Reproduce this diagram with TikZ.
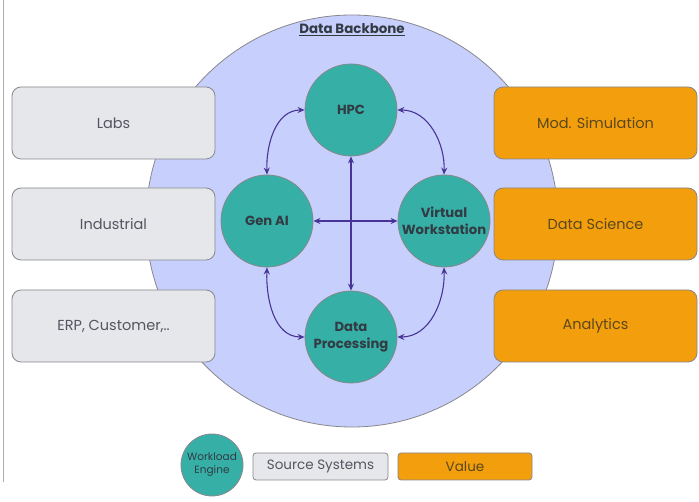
\documentclass[tikz,border=0pt]{standalone}
\usepackage{fontspec}
\setmainfont{Poppins}
\usetikzlibrary{arrows.meta}
\definecolor{backfill}{RGB}{199,208,252}
\definecolor{teal}{RGB}{54,176,166}
\definecolor{arrowc}{RGB}{72,52,150}
\definecolor{srcfill}{RGB}{229,231,235}
\definecolor{valfill}{RGB}{243,158,12}
\definecolor{edgegray}{RGB}{135,135,140}
\definecolor{txtdark}{RGB}{50,58,68}
\definecolor{txtgray}{RGB}{85,85,95}
\definecolor{txtval}{RGB}{90,72,30}
\tikzset{
  engine/.style={circle, draw=edgegray, line width=0.8pt, fill=teal, minimum size=92pt, inner sep=0pt,
    align=center, text=txtdark, font=\bfseries\fontsize{13.2}{16.5}\selectfont},
  srcbox/.style={rectangle, rounded corners=9pt, draw=edgegray, line width=0.8pt, fill=srcfill,
    minimum width=203pt, minimum height=72pt, text=txtgray, font=\fontsize{14.5}{16}\selectfont},
  valbox/.style={rectangle, rounded corners=9pt, draw=edgegray, line width=0.8pt, fill=valfill,
    minimum width=203pt, minimum height=72pt, text=txtval, font=\fontsize{14.5}{16}\selectfont},
  link/.style={draw=arrowc, line width=1.1pt, {Stealth[length=7pt,width=6pt]}-{Stealth[length=7pt,width=6pt]}}
}
\begin{document}
\begin{tikzpicture}[x=1pt,y=1pt]
\useasboundingbox (0,0) rectangle (699,502);
\fill[white] (0,0) rectangle (699,502);
\draw[edgegray!70, line width=0.8pt] (3,502) -- (3,20);
% backbone
\node[circle, draw=edgegray, line width=0.8pt, fill=backfill, minimum size=412pt, inner sep=0pt] (backbone) at (352,281) {};
\node[text=txtdark, font=\bfseries\fontsize{13.4}{15}\selectfont, inner sep=1pt] (bbtitle) at (352,472) {\underline{Data Backbone}};
% engines
\node[engine] (hpc) at (351,392) {HPC};
\node[engine] (genai) at (267,281) {Gen AI};
\node[engine] (vw) at (444,281) {Virtual\\Workstation};
\node[engine] (dp) at (351,165) {Data\\Processing};
% links
\draw[link] (hpc.south) -- (dp.north);
\draw[link] (genai.east) -- (vw.west);
\draw[link] (hpc.west) to[out=180, in=92] (genai.north);
\draw[link] (hpc.east) to[out=0, in=88] (vw.north);
\draw[link] (genai.south) to[out=268, in=180] (dp.west);
\draw[link] (vw.south) to[out=272, in=0] (dp.east);
% sources
\node[srcbox] (labs) at (113.5,379) {Labs};
\node[srcbox] (ind) at (113.5,278) {Industrial};
\node[srcbox] (erp) at (113.5,176) {ERP, Customer,..};
% values
\node[valbox] (mod) at (595.5,379) {Mod. Simulation};
\node[valbox] (ds) at (595.5,278) {Data Science};
\node[valbox] (an) at (595.5,176) {Analytics};
% legend
\node[circle, draw=edgegray, line width=0.8pt, fill=teal, minimum size=62pt, inner sep=0pt, align=center,
  text=txtdark, font=\fontsize{10.5}{13}\selectfont] (legeng) at (212,37) {Workload\\Engine};
\node[rectangle, rounded corners=3pt, draw=edgegray, line width=0.8pt, fill=srcfill, minimum width=135pt,
  minimum height=27pt, text=txtgray, font=\fontsize{13.5}{15}\selectfont] (legsrc) at (320.5,35.5) {Source Systems};
\node[rectangle, rounded corners=3pt, draw=edgegray, line width=0.8pt, fill=valfill, minimum width=134pt,
  minimum height=27pt, text=txtval, font=\fontsize{13.5}{15}\selectfont] (legval) at (465,35.5) {Value};
\end{tikzpicture}
\end{document}
